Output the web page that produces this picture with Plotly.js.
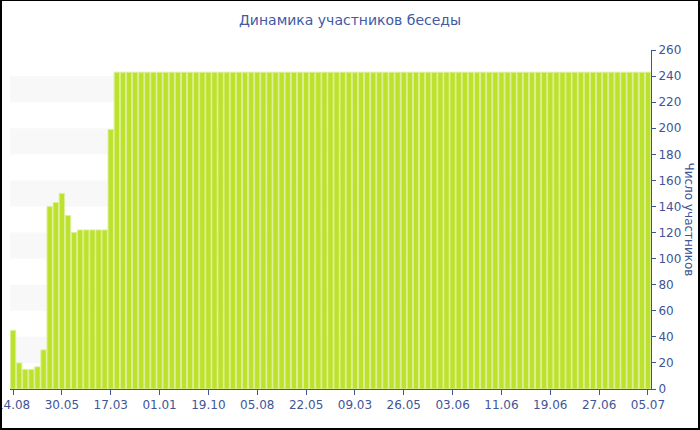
<!DOCTYPE html>
<html><head><meta charset="utf-8">
<script src="https://cdn.plot.ly/plotly-3.0.1.min.js"></script>
<style>
html,body{margin:0;padding:0;background:#fff;}
#wrap{position:relative;width:700px;height:430px;}
#chart{width:700px;height:430px;}
#frame{position:absolute;left:0;top:0;width:700px;height:430px;box-sizing:border-box;border:2px solid #000;border-top-width:1px;pointer-events:none;}
</style></head>
<body>
<div id="wrap"><div id="chart"></div><div id="frame"></div></div>
<script>
const chartTitle = "Динамика участников беседы";
const yTitle = "Число участников";
const earlyValues = [45, 20, 15, 15, 17, 30, 140, 143, 150, 133, 120, 122, 122, 122, 122, 122, 199];
const plateauValue = 243;
const plateauCount = 88;
const tickLabels = ["14.08","30.05","17.03","01.01","19.10","05.08","22.05","09.03","26.05","03.06","11.06","19.06","27.06","05.07"];
const tickStep = 8;

const values = earlyValues.concat(Array(plateauCount).fill(plateauValue));
const xs = values.map((v, i) => i);
const tickVals = tickLabels.map((t, i) => i * tickStep);

const axisColor = '#3e5597';
const textColor = '#3e5597';
const bands = [[20,40],[60,80],[100,120],[140,160],[180,200],[220,240]];
const shapes = bands.map(b => ({
  type:'rect', xref:'paper', yref:'y', x0:0, x1:1, y0:b[0], y1:b[1],
  fillcolor:'#f8f8f8', line:{width:0}, layer:'below'
}));

Plotly.newPlot('chart', [{
  type:'bar', x: xs, y: values,
  marker:{color:'#bde22b', line:{color:'#dcef98', width:1}},
  hoverinfo:'y'
}], {
  width:700, height:430,
  margin:{l:10, r:49, t:50, b:41},
  paper_bgcolor:'#fff', plot_bgcolor:'#fff',
  font:{family:'DejaVu Sans, Verdana, sans-serif', size:11, color:textColor},
  title:{text:chartTitle, font:{size:14, color:'#4259a3'}, x:0.5, xanchor:'center', y:0.953, yanchor:'middle'},
  bargap:0.12,
  showlegend:false,
  shapes: shapes,
  xaxis:{
    range:[-0.5, values.length-0.5], tickmode:'array', tickvals:tickVals, ticktext:tickLabels,
    showgrid:false, zeroline:false, showline:true, linecolor:axisColor, linewidth:1,
    ticks:'outside', ticklen:5, tickcolor:axisColor, tickfont:{size:12, color:textColor},
    ticklabeloverflow:'allow'
  },
  yaxis:{
    side:'right', range:[0,260], dtick:20, showgrid:false, zeroline:false,
    showline:true, linecolor:axisColor, linewidth:1, ticks:'outside', ticklen:4, tickcolor:axisColor,
    tickfont:{size:12, color:textColor}
  },
  annotations:[{
    text:yTitle, xref:'paper', yref:'paper', x:1, y:0.5, xshift:38, showarrow:false,
    textangle:90, font:{size:12, color:textColor}, xanchor:'center', yanchor:'middle'
  }]
}, {displayModeBar:false, staticPlot:true});
</script>
</body></html>
